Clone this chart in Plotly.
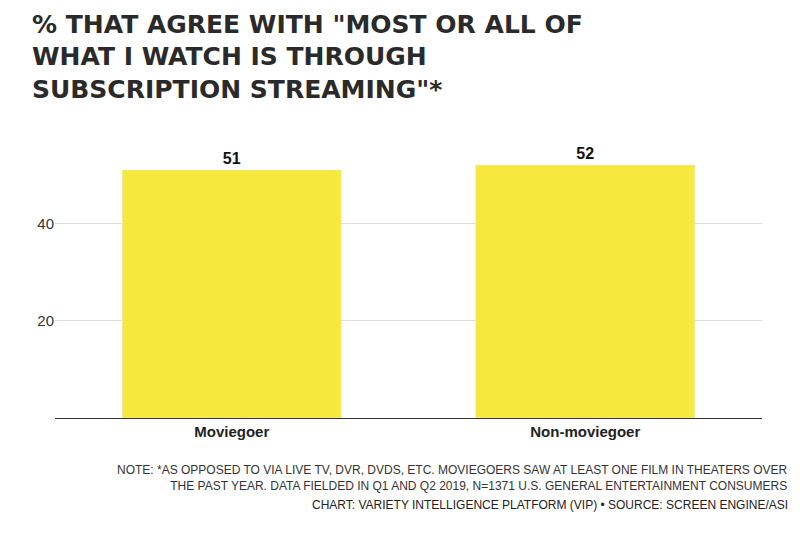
import plotly.graph_objects as go

groups = ["Moviegoer", "Non-moviegoer"]
share = [51, 52]

fig = go.Figure()
fig.add_trace(go.Bar(
    x=groups, y=share, width=0.62,
    marker_color="#f6e83c",
    text=[f"<b>{v}</b>" for v in share], textposition="outside",
    textfont=dict(family="Liberation Sans", size=16, color="#111"),
    cliponaxis=False,
))

fig.update_layout(
    width=800, height=550,
    paper_bgcolor="white", plot_bgcolor="white",
    margin=dict(l=47, r=46, t=140, b=140),
    showlegend=False,
    title=dict(
        text="<b>% THAT AGREE WITH \"MOST OR ALL OF<br>WHAT I WATCH IS THROUGH<br>SUBSCRIPTION STREAMING\"*</b>",
        x=0.03, xanchor="left", y=0.955, yanchor="top",
        font=dict(family="DejaVu Sans", size=25, color="#2a2a2a"),
    ),
    xaxis=dict(
        tickfont=dict(family="Liberation Sans", size=15, color="#222"),
        showline=True, linecolor="#333", linewidth=1,
        tickprefix="<b>", ticksuffix="</b>",
    ),
    yaxis=dict(
        range=[0, 55.5], tickvals=[20, 40], showgrid=True, gridcolor="#dddddd",
        zeroline=False,
        tickfont=dict(family="Liberation Sans", size=15, color="#333"),
        ticks="", ticklen=0,
    ),
)

fig.add_annotation(
    text="NOTE: *AS OPPOSED TO VIA LIVE TV, DVR, DVDS, ETC. MOVIEGOERS SAW AT LEAST ONE FILM IN THEATERS OVER<br>THE PAST YEAR. DATA FIELDED IN Q1 AND Q2 2019, N=1371 U.S. GENERAL ENTERTAINMENT CONSUMERS",
    xref="paper", yref="paper", x=1.04, y=-0.16, xanchor="right", yanchor="top",
    align="right", showarrow=False,
    font=dict(family="Liberation Sans", size=12, color="#333"),
)
fig.add_annotation(
    text="CHART: VARIETY INTELLIGENCE PLATFORM (VIP) • SOURCE: SCREEN ENGINE/ASI",
    xref="paper", yref="paper", x=1.04, y=-0.29, xanchor="right", yanchor="top",
    align="right", showarrow=False,
    font=dict(family="Liberation Sans", size=12, color="#222"),
)

fig.write_html("out.html")
